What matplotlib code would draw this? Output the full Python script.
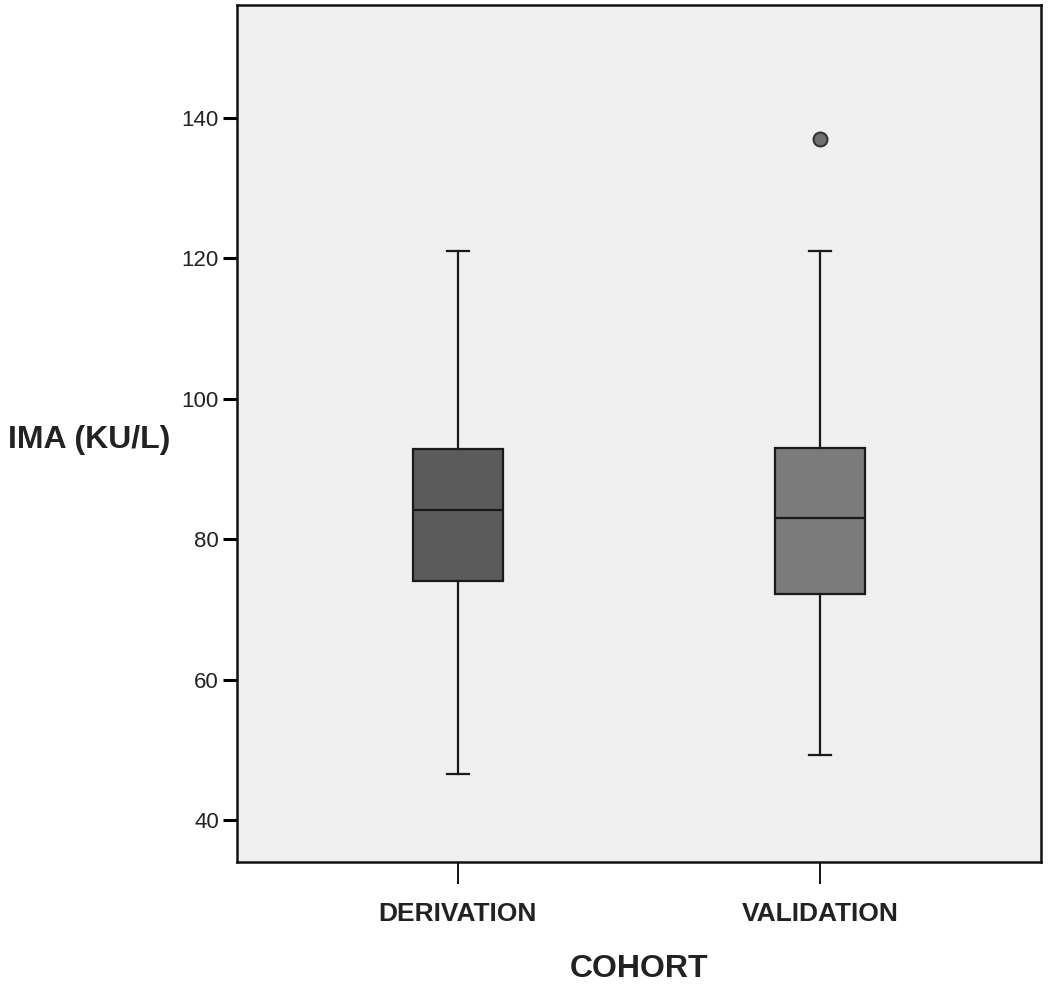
import matplotlib
matplotlib.use("Agg")
import matplotlib.pyplot as plt

# box summary (IMA, KU/L)
cohorts = ["DERIVATION", "VALIDATION"]
whisker_low = [46.5, 49.3]
q1 = [74.0, 72.2]
medians = [84.1, 83.0]
q3 = [92.9, 93.0]
whisker_high = [121.0, 121.0]
outliers = [[], [137.0]]
box_colors = ["#5b5b5b", "#7b7b7b"]
yticks = [40, 60, 80, 100, 120, 140]

plt.rcParams["font.family"] = ["Liberation Sans", "DejaVu Sans"]

stats = []
for i, name in enumerate(cohorts):
    stats.append(dict(label=name, whislo=whisker_low[i], q1=q1[i], med=medians[i],
                      q3=q3[i], whishi=whisker_high[i], fliers=outliers[i]))

fig = plt.figure(figsize=(10.5, 9.89), dpi=100)
ax = fig.add_axes([0.2257, 0.1284, 0.7657, 0.8665])
ax.set_facecolor("#f0f0f0")

lw = 1.6
bp = ax.bxp(stats, positions=[1, 2], widths=0.25, capwidths=0.06, patch_artist=True,
            boxprops=dict(edgecolor="#1a1a1a", linewidth=lw),
            medianprops=dict(color="#1a1a1a", linewidth=lw),
            whiskerprops=dict(color="#1a1a1a", linewidth=lw),
            capprops=dict(color="#1a1a1a", linewidth=lw),
            flierprops=dict(marker="o", markersize=10, markerfacecolor="#707070",
                            markeredgecolor="#333333", markeredgewidth=1.5))
for patch, c in zip(bp["boxes"], box_colors):
    patch.set_facecolor(c)

ax.set_xlim(0.39, 2.61)
ax.set_ylim(34.0, 156.1)
ax.set_yticks(yticks)
ax.set_yticklabels([str(v) for v in yticks], fontsize=16, color="#222222")
ax.set_xticks([1, 2])
ax.set_xticklabels(cohorts, fontsize=19, fontweight="bold", color="#222222")
ax.tick_params(axis="y", length=10, width=2.2, pad=3)
ax.tick_params(axis="x", length=16, width=1.3, pad=13)
for s in ax.spines.values():
    s.set_linewidth(1.8)
    s.set_color("#111111")

ax.set_xlabel("COHORT", fontsize=23, fontweight="bold", color="#222222", labelpad=20)
fig.text(8 / 1050, 1 - 440 / 989, "IMA (KU/L)", fontsize=23, fontweight="bold",
         color="#222222", ha="left", va="center")

fig.savefig("out.png", dpi=100)
